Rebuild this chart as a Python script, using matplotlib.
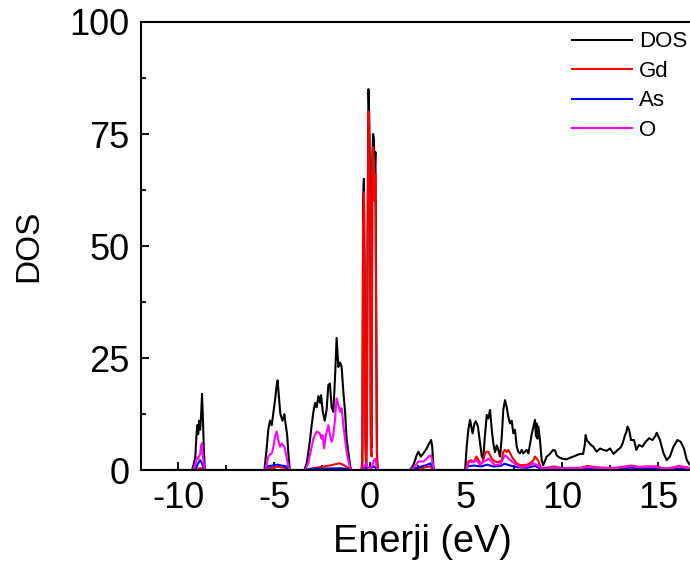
import matplotlib
matplotlib.use("Agg")
import matplotlib.pyplot as plt
from matplotlib.ticker import MultipleLocator

# total DOS (energy in eV, states)
dos_e = [-11.9, -9.30, -9.25, -9.20, -9.15, -9.10, -9.05, -9.00, -8.95, -8.90, -8.85, -8.80, -8.75, -8.70, -8.65, -8.60,
         -5.50, -5.45, -5.38, -5.30, -5.21, -5.12, -5.03, -4.95, -4.86, -4.81, -4.74, -4.67, -4.56, -4.46, -4.39, -4.32, -4.25, -4.18,
         -3.42, -3.30, -3.21, -3.12, -3.04, -2.95, -2.86, -2.78, -2.69, -2.60, -2.55, -2.46, -2.36, -2.26, -2.17, -2.09, -2.00,
         -1.91, -1.82, -1.74, -1.65, -1.56, -1.48, -1.39, -1.30, -1.22, -1.13, -1.04, -0.98,
         -0.45, -0.40, -0.36, -0.32, -0.28, -0.24, -0.20, -0.16, -0.12, -0.08, -0.04, 0.00, 0.04, 0.08, 0.12, 0.16, 0.20, 0.24,
         0.28, 0.32, 0.36, 0.40,
         2.08, 2.26, 2.43, 2.52, 2.64, 2.78, 2.95, 3.09, 3.18, 3.24, 3.30, 3.34,
         4.95, 5.03, 5.12, 5.21, 5.34, 5.44, 5.51, 5.62, 5.73, 5.82, 5.90, 5.97, 6.08, 6.16, 6.25, 6.34, 6.42, 6.51, 6.60, 6.68,
         6.77, 6.86, 6.94, 7.03, 7.12, 7.20, 7.29, 7.38, 7.46, 7.55, 7.64, 7.72, 7.81, 7.90, 7.98, 8.07, 8.16, 8.25, 8.34, 8.42,
         8.51, 8.59, 8.64, 8.68, 8.72, 8.77, 8.85, 8.94, 9.02, 9.10, 9.20, 9.35, 9.46, 9.55, 9.64, 9.72, 9.80, 9.90, 10.05, 10.24,
         10.40, 10.59, 10.75, 10.94, 11.10, 11.18, 11.23, 11.30, 11.37, 11.50, 11.63, 11.80, 11.98, 12.15, 12.33, 12.50, 12.68,
         12.90, 13.05, 13.16, 13.28, 13.35, 13.41, 13.50, 13.59, 13.75, 13.87, 14.01, 14.18, 14.36, 14.53, 14.71, 14.85, 14.93,
         15.10, 15.28, 15.45, 15.62, 15.80, 16.01, 16.18, 16.35, 16.50, 16.65, 16.80, 17.00, 17.20, 17.40]
dos_v = [0, 0, 0.3, 1, 2, 3, 7, 10, 8, 11, 9, 12, 17, 11, 4, 0,
         0, 2, 5, 9, 11, 10, 13, 15.5, 19, 20, 16, 12.5, 11, 12.5, 10, 8, 3.5, 0,
         0, 1.5, 4, 7, 10, 13, 15, 14, 16.5, 15, 16.7, 13, 11, 13.5, 19, 19.3, 14,
         13, 21, 29.5, 23, 24, 23, 17.5, 13, 7, 4, 1, 0,
         0, 2, 60, 65, 44, 8, 1, 13, 60, 85, 79, 64, 8, 5, 70, 75, 74, 66,
         71, 35, 4, 0,
         0, 1.1, 3.3, 4.1, 3, 3.7, 4.8, 6, 6.7, 5.2, 0.8, 0,
         0, 5, 9, 11.2, 8.2, 10.4, 10.9, 9.7, 6, 3, 2.5, 7, 12.3, 11.5, 13.4, 9, 6, 4, 5.5, 4.5,
         3, 7.4, 13.4, 15.6, 14, 11.9, 10.4, 11, 8.2, 9, 5.2, 4.1, 3.7, 4.5, 3.7, 4.1, 4.5, 3.7, 6, 8,
         9.7, 11.2, 7.5, 10.4, 7, 9.7, 6.7, 2.2, 1.1, 1.9, 3, 3.5, 4.1, 4.5, 4.3, 3.3, 3, 2.7, 2.5, 2.4,
         2.7, 3, 3.3, 3.6, 3.6, 5.5, 7.8, 6.5, 6.3, 5.6, 5.2, 4.1, 4.8, 4.5, 4.3, 4.8, 3.6,
         4.5, 5, 6, 7.8, 8.5, 9.7, 8.9, 6.7, 6.7, 4.5, 5.6, 5.2, 6.3, 7.1, 6.7, 7.5, 8.3,
         6.7, 3.8, 2.2, 3, 5.2, 6.7, 6.3, 4.8, 2.2, 1.2, 1.0, 1.5, 1.2, 1.0]

# Gd partial DOS
gd_e = [-10.6, -9.15, -9.00, -8.80, -8.65, -8.55, -5.50, -5.40, -5.10, -4.80, -4.50, -4.25, -4.15,
        -3.30, -3.00, -2.70, -2.40, -2.10, -1.80, -1.60, -1.40, -1.20, -1.00, -0.90,
        -0.45, -0.40, -0.36, -0.32, -0.28, -0.24, -0.20, -0.16, -0.12, -0.08, -0.04, 0.00, 0.04, 0.08, 0.12, 0.16, 0.20,
        0.24, 0.28, 0.32, 0.36, 0.40,
        2.10, 2.40, 2.80, 3.10, 3.30, 3.40,
        4.95, 5.03, 5.12, 5.25, 5.40, 5.55, 5.70, 5.85, 5.99, 6.08, 6.16, 6.25, 6.34, 6.51, 6.68, 6.86, 6.94, 7.03, 7.12,
        7.20, 7.29, 7.38, 7.46, 7.64, 7.81, 8.16, 8.42, 8.51, 8.59, 8.68, 8.77, 8.90, 9.20, 9.60, 10.0, 10.5, 11.0, 11.3,
        11.8, 12.3, 12.8, 13.3, 13.6, 14.0, 14.5, 14.9, 15.4, 15.8, 16.1, 16.6, 17.4]
gd_v = [0, 0, 0.3, 0.4, 0.2, 0, 0, 0.3, 0.5, 0.7, 0.5, 0.2, 0,
        0, 0.3, 0.6, 0.8, 1.0, 1.3, 1.5, 1.2, 0.6, 0.1, 0,
        0, 1, 55, 62, 40, 5, 0, 10, 55, 80, 75, 60, 5, 3, 65, 72, 69,
        60, 66, 30, 2, 0,
        0, 0.3, 0.5, 0.8, 0.1, 0,
        0, 0.8, 1.9, 2.2, 1.8, 3, 1.8, 1.5, 3.7, 4.1, 4.1, 3.3, 2.5, 1.9, 1.7, 2.2, 4.1, 4.5, 4.0,
        4.5, 3.8, 3.0, 2.5, 1.5, 1.1, 1.1, 1.8, 2.2, 3.0, 2.6, 2.0, 0.5, 0.5, 0.8, 0.4, 0.5, 0.5, 0.9,
        0.6, 0.5, 0.5, 0.8, 1.0, 0.7, 0.8, 0.8, 0.3, 0.6, 0.9, 0.5, 0.4]

# As partial DOS
as_e = [-10.6, -9.15, -9.05, -8.95, -8.85, -8.75, -8.68, -8.60, -5.45, -5.35, -5.10, -4.85, -4.60, -4.35, -4.20,
        -3.35, -3.10, -2.50, -1.50, -1.10, -1.00, -0.40, -0.30, -0.20, 0.00, 0.20, 0.30, 0.40,
        2.10, 2.40, 2.70, 3.00, 3.15, 3.30, 3.40,
        4.95, 5.10, 5.40, 5.80, 6.10, 6.40, 6.80, 7.00, 7.30, 7.70, 8.20, 8.60, 8.90, 9.50, 10.5, 11.5, 12.5,
        13.5, 14.5, 15.5, 16.6, 17.4]
as_v = [0, 0, 0.6, 1.5, 2.2, 1.5, 0.5, 0, 0, 0.8, 1.0, 1.2, 1.0, 0.8, 0,
        0, 0.3, 0.3, 0.4, 0.2, 0, 0, 0.3, 0.6, 0.3, 0.8, 0.5, 0,
        0, 0.5, 0.8, 1.2, 1.5, 0.2, 0,
        0, 0.8, 1.0, 0.8, 1.2, 0.8, 0.9, 1.4, 1.0, 0.6, 0.5, 0.9, 0.3, 0.4, 0.3, 0.4, 0.3,
        0.5, 0.4, 0.2, 0.3, 0.2]

# O partial DOS
o_e = [-10.6, -9.25, -9.20, -9.10, -9.05, -9.00, -8.95, -8.90, -8.85, -8.80, -8.75, -8.70, -8.65, -8.60,
       -5.47, -5.38, -5.30, -5.21, -5.12, -5.03, -4.95, -4.86, -4.78, -4.69, -4.60, -4.46, -4.35, -4.25, -4.18,
       -3.38, -3.22, -3.13, -2.95, -2.78, -2.62, -2.53, -2.48, -2.39, -2.30, -2.17, -2.09, -2.00, -1.91, -1.82,
       -1.74, -1.65, -1.56, -1.48, -1.39, -1.22, -1.04, -0.98,
       -0.40, -0.30, -0.20, -0.10, 0.00, 0.10, 0.20, 0.28, 0.35, 0.40,
       2.10, 2.30, 2.52, 2.64, 2.78, 2.95, 3.04, 3.18, 3.26, 3.32, 3.38,
       4.95, 5.03, 5.12, 5.21, 5.38, 5.55, 5.73, 5.90, 6.08, 6.16, 6.34, 6.51, 6.77, 6.86, 6.94, 7.03, 7.12, 7.20,
       7.38, 7.64, 7.81, 8.20, 8.51, 8.60, 8.77, 8.90, 9.30, 9.60, 10.0, 10.6, 11.0, 11.3, 11.8, 12.3, 12.8, 13.3,
       13.6, 14.0, 14.5, 14.9, 15.4, 15.8, 16.1, 16.6, 17.4]
o_v = [0, 0, 0.2, 1.2, 2.2, 2.8, 2.5, 3.2, 3.5, 5.5, 6, 3, 1, 0,
       0, 1.5, 3, 3.5, 3.7, 5.2, 7.4, 8.6, 6.7, 5.2, 5.9, 5.2, 3, 0.7, 0,
       0, 1.5, 3.3, 7, 8.6, 8.2, 7, 7.8, 4.8, 7.8, 10, 7.8, 6.3, 7.8, 11.5,
       16, 14.5, 13, 13.8, 10, 4, 0.4, 0,
       0, 0.8, 1.5, 0.5, 0.3, 0.8, 2.2, 2.5, 0.5, 0,
       0, 0.6, 1.9, 1.9, 1.9, 2.5, 3, 3.3, 1.5, 0.3, 0,
       0, 0.3, 1.5, 1.9, 1.7, 2.2, 1.2, 1.9, 2.2, 2.6, 1.8, 1.1, 1.2, 1.9, 2.6, 3.3, 3.0, 2.6,
       1.9, 1.1, 0.7, 0.8, 1.5, 1.3, 1.0, 0.4, 0.3, 0.6, 0.3, 0.4, 0.4, 0.7, 0.5, 0.4, 0.4, 0.7,
       0.9, 0.6, 0.7, 0.7, 0.3, 0.5, 0.8, 0.4, 0.3]

plt.rcParams["font.family"] = ["Liberation Sans", "DejaVu Sans"]
plt.rcParams["axes.unicode_minus"] = False

fig = plt.figure(figsize=(6.9, 5.82), dpi=100)
# the original plot runs a little past the right edge of the picture
ax = fig.add_axes([0.2043, 0.1924, 0.8145, 0.7698])

lw = 1.5
ax.plot(dos_e, dos_v, color="black", lw=lw, label="DOS")
ax.plot(gd_e, gd_v, color="#ff0000", lw=lw, label="Gd")
ax.plot(as_e, as_v, color="#0000ff", lw=lw, label="As")
ax.plot(o_e, o_v, color="#ff00ff", lw=lw, label="O")

ax.set_xlim(-11.93, 17.34)
ax.set_ylim(0, 100)
ax.xaxis.set_major_locator(MultipleLocator(5))
ax.xaxis.set_minor_locator(MultipleLocator(2.5))
ax.yaxis.set_major_locator(MultipleLocator(25))
ax.yaxis.set_minor_locator(MultipleLocator(12.5))
ax.tick_params(which="both", direction="in", width=1.3, labelsize=26, top=False, right=False)
ax.tick_params(which="major", length=6, pad=8)
ax.tick_params(which="minor", length=3.5)
for s in ["left", "bottom", "top"]:
    ax.spines[s].set_linewidth(1.5)
ax.spines["right"].set_visible(False)

ax.set_xlabel("Enerji (eV)", fontsize=27.3, labelpad=6)
ax.set_ylabel("DOS", fontsize=24, labelpad=18)

ax.legend(loc="upper right", bbox_to_anchor=(687 / 690, 0.946), bbox_transform=fig.transFigure,
          frameon=False, fontsize=16, handlelength=2.7, handletextpad=0.3, labelspacing=0.38,
          borderaxespad=0, borderpad=0)

fig.savefig("out.png", dpi=100)
